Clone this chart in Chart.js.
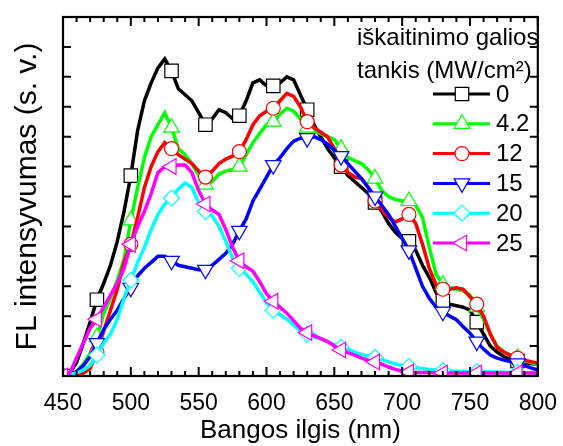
<!DOCTYPE html>
<html><head><meta charset="utf-8">
<script src="https://cdn.jsdelivr.net/npm/chart.js@4.4.0/dist/chart.umd.min.js"></script>
<style>html,body{margin:0;padding:0;background:#fff;} #wrap{width:563px;height:446px;}</style>
</head><body><div id="wrap"><canvas id="c" width="563" height="446"></canvas></div>
<script>
const wavelengths = [450,455,460,465,470,475,480,485,490,495,500,505,510,515,520,525,530,535,540,545,550,555,560,565,570,575,580,585,590,595,600,605,610,615,620,625,630,635,640,645,650,655,660,665,670,675,680,685,690,695,700,705,710,715,720,725,730,735,740,745,750,755,760,765,770,775,780,785,790,795,800];
const fl_0 = [0,0.1,0.45,1.1,1.8,2.55,3.1,3.7,4.5,5.5,6.7,8.2,9.2,9.8,10.3,10.6,10.2,9.6,9.4,9.2,8.8,8.4,8.6,8.9,8.8,8.6,8.7,9.2,9.8,9.9,9.7,9.7,9.8,10.0,9.9,9.4,8.9,8.4,8.0,7.6,7.3,7.0,6.7,6.5,6.3,6.1,5.8,5.5,5.1,4.8,4.6,4.5,4.2,3.7,3.3,2.8,2.5,2.4,2.35,2.3,2.2,1.8,1.4,1.0,0.8,0.65,0.55,0.5,0.45,0.42,0.38];
const fl_4_2 = [0,0.05,0.15,0.4,0.75,1.3,2.1,2.6,3.2,3.9,5.2,6.3,7.3,8.0,8.4,8.8,8.3,7.6,7.4,7.1,6.7,6.4,6.5,6.75,6.85,6.9,7.0,7.4,7.8,8.1,8.4,8.5,8.75,8.95,8.85,8.6,8.3,8.2,8.1,8.0,7.9,7.6,7.3,7.2,7.1,6.9,6.6,6.2,6.0,5.9,5.85,5.85,5.7,5.3,4.3,3.4,3.05,2.95,2.9,2.85,2.7,2.3,1.9,1.4,1.0,0.8,0.7,0.6,0.52,0.45,0.38];
const fl_12 = [0,0.02,0.05,0.1,0.25,0.8,1.5,2.2,2.9,3.8,4.4,5.3,6.3,7.0,7.5,7.8,7.6,7.4,7.25,7.1,6.85,6.65,6.85,7.1,7.25,7.35,7.5,7.9,8.4,8.7,8.85,8.95,9.2,9.45,9.35,9.0,8.5,8.3,8.15,8.0,7.6,7.05,6.8,6.65,6.6,6.3,5.85,5.55,5.3,5.15,5.25,5.4,5.1,4.4,3.6,3.05,2.9,2.9,2.95,2.9,2.65,2.4,2.0,1.4,0.95,0.8,0.68,0.6,0.53,0.48,0.43];
const fl_15 = [0,0.05,0.15,0.35,0.65,1.1,1.55,1.9,2.2,2.6,2.95,3.35,3.6,3.8,4.0,4.0,3.85,3.7,3.65,3.6,3.55,3.55,3.7,3.9,4.1,4.4,4.85,5.25,5.85,6.25,6.65,7.05,7.3,7.6,7.85,7.95,7.95,8.0,7.9,7.75,7.55,7.35,7.1,6.85,6.6,6.3,6.0,5.7,5.4,5.0,4.6,4.2,3.6,3.0,2.6,2.3,2.15,2.0,1.88,1.65,1.43,1.15,0.9,0.7,0.6,0.53,0.48,0.42,0.35,0.27,0.2];
const fl_20 = [0,0.05,0.1,0.2,0.35,0.7,1.1,1.4,1.9,2.6,3.2,3.8,4.3,4.9,5.4,5.75,5.95,6.25,6.45,6.3,5.8,5.5,5.35,5.0,4.5,3.95,3.6,3.4,3.15,2.8,2.45,2.2,2.05,1.9,1.7,1.5,1.4,1.3,1.25,1.15,1.05,0.97,0.9,0.8,0.72,0.67,0.62,0.55,0.47,0.4,0.35,0.32,0.28,0.25,0.22,0.2,0.18,0.17,0.16,0.15,0.15,0.14,0.14,0.13,0.13,0.12,0.12,0.12,0.11,0.11,0.1];
const fl_25 = [0,0.1,0.6,1.1,1.6,1.9,2.3,2.7,3.1,3.6,4.4,5.0,5.5,6.1,6.8,7.0,7.0,7.05,7.05,6.8,6.2,5.75,5.55,5.4,4.9,4.3,3.85,3.65,3.5,3.15,2.75,2.5,2.3,2.1,1.85,1.6,1.45,1.35,1.25,1.15,1.0,0.87,0.78,0.7,0.6,0.52,0.47,0.4,0.3,0.22,0.17,0.13,0.12,0.12,0.12,0.1,0.1,0.1,0.1,0.1,0.1,0.1,0.1,0.1,0.1,0.1,0.1,0.1,0.1,0.1,0.1];
const seriesLabels = ['0','4.2','12','15','20','25'];
const xTickValues = [450,500,550,600,650,700,750,800];
const legendTitleLines = ['iškaitinimo galios','tankis (MW/cm²)'];
const xTitle = 'Bangos ilgis (nm)';
const yTitle = 'FL intensyvumas (s. v.)';

const FONT = '"Liberation Sans", Arial, sans-serif';
const seriesValues = [fl_0, fl_4_2, fl_12, fl_15, fl_20, fl_25];
const colors = ['#000000','#00ff00','#ff0000','#0000ff','#00ffff','#ff00ff'];
const pStyles = ['rect','triangle','circle','triangle','rectRot','triangle'];
const pRot = [0,0,0,180,0,-90];
const pRad = [9.5,9,7,9,8,9];
const markerAt = new Set([450,475,500,530,555,580,605,630,655,680,705,730,755,785]);

const datasets = seriesValues.map((vals, i) => ({
  label: seriesLabels[i],
  data: wavelengths.map((w, j) => ({x: w, y: vals[j]})),
  borderColor: colors[i],
  backgroundColor: '#ffffff',
  borderWidth: 3.5,
  pointStyle: pStyles[i],
  rotation: pRot[i],
  pointBackgroundColor: '#ffffff',
  pointBorderColor: colors[i],
  pointBorderWidth: 1.2,
  pointRadius: ctx => (ctx.raw && markerAt.has(ctx.raw.x)) ? pRad[i] : 0,
  tension: 0,
  order: 10 - i
}));

const frameAndTicks = {
  id: 'frameAndTicks',
  afterDatasetsDraw(chart) {
    const {ctx, chartArea: a, scales: {x, y}} = chart;
    ctx.save();
    ctx.strokeStyle = '#000';
    ctx.lineWidth = 2;
    ctx.beginPath();
    for (let v = 450; v <= 800; v += 10) {
      const px = x.getPixelForValue(v);
      const len = (v % 50 === 0) ? 9 : 5;
      ctx.moveTo(px, a.bottom); ctx.lineTo(px, a.bottom - len);
      ctx.moveTo(px, a.top); ctx.lineTo(px, a.top + len);
    }
    for (let v = 0; v <= 12; v++) {
      const py = y.getPixelForValue(v);
      ctx.moveTo(a.left, py); ctx.lineTo(a.left + 8, py);
      ctx.moveTo(a.right, py); ctx.lineTo(a.right - 8, py);
    }
    ctx.stroke();
    ctx.lineWidth = 2.2;
    ctx.strokeRect(a.left, a.top, a.right - a.left, a.bottom - a.top);
    ctx.restore();
  }
};

const legendBox = {
  id: 'legendBox',
  afterDraw(chart) {
    const ctx = chart.ctx;
    ctx.save();
    ctx.fillStyle = '#000';
    ctx.font = '24px ' + FONT;
    ctx.textBaseline = 'alphabetic';
    ctx.textAlign = 'left';
    ctx.fillText(legendTitleLines[0], 357, 45);
    ctx.fillText(legendTitleLines[1], 357, 78);
    for (let i = 0; i < seriesLabels.length; i++) {
      const yy = 94 + 29.8 * i;
      ctx.strokeStyle = colors[i];
      ctx.lineWidth = 3;
      ctx.beginPath(); ctx.moveTo(433, yy); ctx.lineTo(490, yy); ctx.stroke();
      ctx.fillStyle = '#fff';
      ctx.lineWidth = 1.2;
      Chart.helpers.drawPoint(ctx, {pointStyle: pStyles[i], rotation: pRot[i], radius: pRad[i], borderWidth: 1.2}, 462, yy);
      ctx.fillStyle = '#000';
      ctx.textBaseline = 'middle';
      ctx.fillText(seriesLabels[i], 496, yy + 1);
    }
    ctx.restore();
  }
};

new Chart(document.getElementById('c'), {
  type: 'line',
  data: {datasets},
  options: {
    responsive: false,
    devicePixelRatio: 1,
    animation: false,
    events: [],
    layout: {padding: {left: 0, right: 22, top: 17, bottom: 0}},
    plugins: {legend: {display: false}, tooltip: {enabled: false}},
    scales: {
      x: {
        type: 'linear', min: 450, max: 800,
        grid: {display: false}, border: {display: false},
        afterBuildTicks: s => { s.ticks = xTickValues.map(v => ({value: v})); },
        ticks: {color: '#000', font: {family: FONT, size: 23}, padding: 6, maxRotation: 0, autoSkip: false},
        title: {display: true, text: xTitle, color: '#000', font: {family: FONT, size: 26}, padding: {top: 0, bottom: 0}},
        afterFit: s => { s.height = 70; }
      },
      y: {
        min: 0, max: 12,
        grid: {display: false}, border: {display: false},
        ticks: {display: false, stepSize: 1},
        title: {display: true, text: yTitle, color: '#000', font: {family: FONT, size: 30}, padding: {top: 10, bottom: 0}},
        afterFit: s => { s.width = 63; }
      }
    }
  },
  plugins: [frameAndTicks, legendBox]
});
</script></body></html>
